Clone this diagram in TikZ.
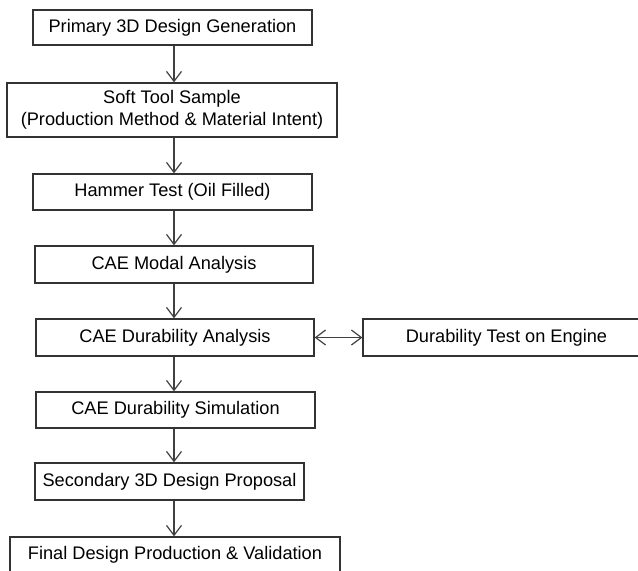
\documentclass[tikz,border=0pt]{standalone}
\usepackage{fontspec}
\setmainfont{Liberation Sans}
\usetikzlibrary{arrows.meta}

\tikzset{
  stage/.style={draw=black!80, line width=0.6pt, inner sep=0pt, minimum height=18pt,
    align=center, font=\fontsize{9.1}{10.9}\selectfont},
  flow/.style={draw=black!75, line width=0.6pt, -{Straight Barb[length=5pt,width=7.5pt]}},
}

\begin{document}
\begin{tikzpicture}[x=0.5pt,y=-0.5pt]
\useasboundingbox (0,0) rectangle (638,570);

\node[stage, minimum width=139.5pt, minimum height=17.5pt] (S1) at (172.5,27.5) {Primary 3D Design Generation};
\node[stage, minimum width=165pt, minimum height=27pt] (S2) at (172,110) {Soft Tool Sample\\(Production Method \& Material Intent)};
\node[stage, minimum width=139.5pt] (S3) at (172.5,192) {Hammer Test (Oil Filled)};
\node[stage, minimum width=139pt, minimum height=18.5pt] (S4) at (174,264.5) {CAE Modal Analysis};
\node[stage, minimum width=139pt, minimum height=18.5pt] (S5) at (175,337.5) {CAE Durability Analysis};
\node[stage, minimum width=139.5pt] (S6) at (175.5,410) {CAE Durability Simulation};
\node[stage, minimum width=134.5pt, minimum height=18.5pt] (S7) at (169.5,481.5) {Secondary 3D Design Proposal};
\node[stage, minimum width=165pt] (S8) at (175,555) {Final Design Production \& Validation};

\node[stage, minimum width=143.5pt, minimum height=18.5pt] (T) at (506.5,337.5) {Durability Test on Engine};

% main spine of the flow
\coordinate (spine) at (174,0);
\foreach \a / \b in {1/2, 2/3, 3/4, 4/5, 5/6, 6/7, 7/8}
  \draw[flow] (S\a.south -| spine) -- (S\b.north -| spine);

\draw[flow, {Straight Barb[length=5pt,width=7.5pt]}-{Straight Barb[length=5pt,width=7.5pt]}] (S5) -- (T);
\end{tikzpicture}
\end{document}
